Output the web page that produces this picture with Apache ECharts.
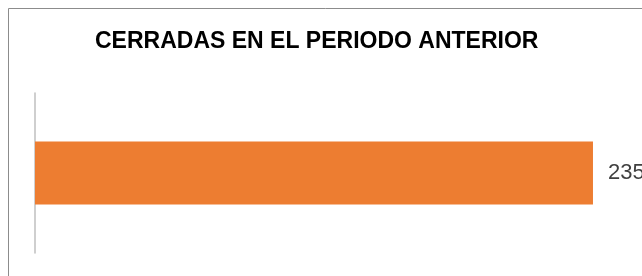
<!DOCTYPE html>
<html>
<head>
<meta charset="utf-8">
<script src="https://cdn.jsdelivr.net/npm/echarts@6/dist/echarts.min.js"></script>
<style>
  html, body { margin: 0; padding: 0; background: #fff; }
  #chart { width: 642px; height: 276px; }
</style>
</head>
<body>
<div id="chart"></div>
<script>
var titleText = 'CERRADAS EN EL PERIODO ANTERIOR';
var categories = ['Cerradas'];
var values = [235];
var axisMax = 250;

var chart = echarts.init(document.getElementById('chart'));
chart.setOption({
    animation: false,
    graphic: [{
        type: 'rect',
        silent: true,
        shape: { x: 8.5, y: 8.5, width: 700, height: 300 },
        style: { fill: 'none', stroke: '#8c8c8c', lineWidth: 1 }
    }],
    title: {
        text: titleText,
        left: 90,
        top: 25,
        textStyle: {
            fontFamily: 'Liberation Sans',
            fontWeight: 'bold',
            fontSize: 23,
            color: '#000'
        }
    },
    grid: { left: 35, top: 93, height: 160, width: 593.6 },
    xAxis: {
        type: 'value',
        min: 0,
        max: axisMax,
        show: false
    },
    yAxis: {
        type: 'category',
        data: categories,
        axisLine: { show: true, lineStyle: { color: '#bfbfbf', width: 1.5 } },
        axisTick: { show: false },
        axisLabel: { show: false }
    },
    series: [{
        type: 'bar',
        data: values,
        barWidth: 63,
        itemStyle: { color: '#ED7D31' },
        label: {
            show: true,
            position: 'right',
            distance: 15,
            fontFamily: 'Liberation Sans',
            fontSize: 22,
            color: '#404040'
        }
    }]
});
</script>
</body>
</html>
